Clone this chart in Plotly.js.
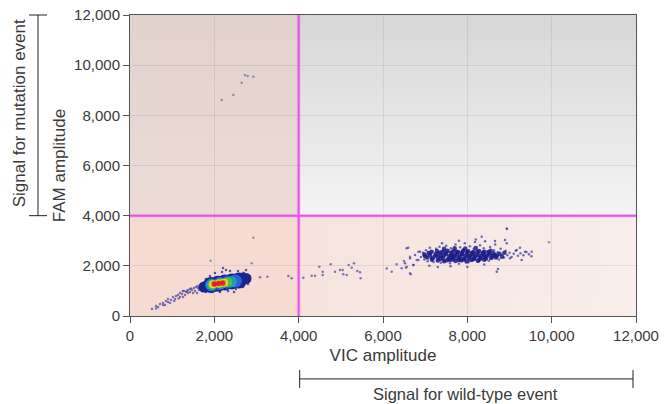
<!DOCTYPE html>
<html><head><meta charset="utf-8">
<script src="https://cdn.plot.ly/plotly-3.0.1.min.js"></script>
<style>html,body{margin:0;padding:0;background:#fff}#chart{width:666px;height:404px}</style>
</head><body><div id="chart"></div>
<script>
// ---------- data ----------
const xTickVals = [0, 2000, 4000, 6000, 8000, 10000, 12000];
const xTickText = ['0', '2,000', '4,000', '6,000', '8,000', '10,000', '12,000'];
const yTickVals = [0, 2000, 4000, 6000, 8000, 10000, 12000];
const yTickText = ['0', '2,000', '4,000', '6,000', '8,000', '10,000', '12,000'];
const vicThreshold = 4000;
const famThreshold = 4000;

// negative-droplet cluster, drawn as density layers (outer -> core)
const negFringeX = [1755, 2751];
const negFringeY = [1156, 1495];
const negNavyX = [1921, 2087, 2253, 2419, 2585];
const negNavyY = [1236, 1284, 1332, 1379, 1415];
const negBlueX = [1933, 2123, 2312, 2502];
const negBlueY = [1236, 1296, 1348, 1395];
const negTealX = [1933, 2170, 2407];
const negTealY = [1244, 1304, 1363];
const negGreenX = [1957, 2134, 2312];
const negGreenY = [1256, 1304, 1348];
const negYellowX = [1969, 2099, 2230];
const negYellowY = [1264, 1296, 1328];
const negOrangeX = [1992, 2099, 2206];
const negOrangeY = [1276, 1296, 1316];
const negRedX = [2004, 2099, 2194];
const negRedY = [1276, 1296, 1312];
const negEdgeX = [1660,1731,1802,1897,2016,2182,2372,2561,2704,2822,2846,2799,2680,2514,2324,2134,1945,1802,1708,2751,2277,2467,2206,2680];
const negEdgeY = [1116,1276,1475,1595,1714,1754,1794,1794,1714,1595,1435,1276,1156,1076,997,957,957,957,997,1834,1834,957,1914,1714];

// low-amplitude trail below the negative cluster
const trailX = [522,617,711,783,783,854,901,949,972,1020,1067,1091,1138,1186,1186,1233,1257,1281,1304,1328,1376,1376,1423,1423,1470,1494,1518,1542,1565,1589,1613,1636,1660,1731,664,830,1152,1050,1250,1700,1600,1750,1450,1350,900,620];
const trailY = [279,399,478,439,518,598,678,518,638,757,678,797,837,917,757,877,757,997,837,957,1037,917,1076,957,1037,917,1116,997,1156,917,1116,1037,1196,1076,359,439,700,600,1000,1150,1200,1180,1100,1000,560,300];

// rain between the clusters
const bridgeX = [2846,3083,3257,3755,3834,4111,4309,4388,4490,4570,4570,4760,4862,4981,5059,5044,5139,5187,5258,5312,5391,5455,5471,6088,6206,6325,6443,6498,6562,6546,6641,6601,6657,6720,6799,6838,6641];
const bridgeY = [1567,1543,1567,1595,1503,1527,1607,1607,1966,1766,1635,2061,1766,1834,1662,1834,1635,2033,1926,2100,1794,1742,1503,1890,1766,2061,1902,2193,1966,1926,2364,2723,1662,2033,2233,2564,1702];

// isolated droplets
const isoX = [2925, 2886, 1913, 9937, 8934, 2174, 2450, 2648, 2727, 2790, 2925];
const isoY = [3122, 2100, 2205, 2937, 3496, 8611, 8811, 9301, 9608, 9568, 9541];

// wild-type positive cluster: dense core
const wtCoreX = [7300,7450,7600,7720,7850,7980,8100,8250,8400,
 7050,7180,7310,7420,7560,7680,7800,7930,8050,8170,8300,8420,8560,8680,
 6980,7120,7250,7370,7500,7630,7760,7880,8010,8130,8260,8390,8520,8650,
 7150,7280,7400,7530,7650,7780,7900,8020,8150,8280,8400,8550,
 7450,7700,7950,8200,
 7000,7080,7160,7240,7330,7360,7440,7480,7520,7580,7620,7660,7710,7740,7790,7830,7870,7910,7950,7990,8040,8080,8110,8160,8200,8240,8290,8330,8370,8440,8470,8500,8590,8620,8700,8760,8820,8880];
const wtCoreY = [2210,2180,2230,2190,2220,2170,2230,2200,2240,
 2330,2300,2350,2310,2290,2340,2310,2290,2350,2320,2300,2350,2310,2330,
 2450,2420,2470,2430,2460,2420,2450,2470,2430,2460,2420,2450,2470,2430,
 2560,2590,2550,2600,2570,2550,2600,2580,2550,2590,2560,2600,
 2680,2700,2690,2710,
 2380,2510,2240,2390,2520,2270,2400,2540,2220,2380,2500,2280,2420,2560,2230,2380,2520,2260,2400,2530,2260,2400,2520,2270,2410,2540,2250,2390,2520,2280,2400,2540,2380,2500,2400,2480,2360,2520];
// wild-type positive cluster: surrounding droplets
const wtHaloX = [6900,6950,6980,7020,7060,7090,7110,7140,7170,7200,7230,7260,7280,7310,7340,7370,7390,7420,7450,7470,7500,7530,7560,7590,7610,7640,7670,7700,7720,7750,7780,7800,7830,7860,7880,7910,7940,7970,8000,8030,8060,8090,8120,8150,8180,8210,8240,8270,8300,8330,8360,8390,8420,8450,8480,8510,8540,8570,8600,8630,8660,8690,8720,8750,8790,8830,8870,8910,8950,9000,9050,9100,9150,9200,9260,9330,9400,9460,9520,
 6562,6641,6522,6720,6759,6878,6838,8941,9249,9368,9526,9289,9170,9012,8697,8727,8341,8656,8894,8934,7300,7600,8000,8400,7100,8200,7800,7400];
const wtHaloY = [2350,2520,2250,2620,2180,2470,2720,2300,2560,2150,2410,2680,2240,2500,2760,2120,2350,2620,2210,2470,2800,2300,2560,2100,2700,2380,2200,2620,2850,2300,2520,2080,2740,2420,2180,2650,2900,2330,2560,2140,2780,2460,2240,2680,2950,2380,2600,2170,2820,2480,2280,2700,2980,2400,2580,2200,2750,2450,2300,2620,2850,2380,2540,2250,2680,2450,2330,2600,2420,2520,2350,2480,2600,2400,2500,2420,2550,2460,2380,
 2699,2300,2100,2033,2432,2564,2233,3468,2723,2564,2564,2233,2631,2300,1766,1874,3162,2990,3030,2898,1950,1980,1950,2050,2000,3050,3000,2900];

// ---------- background quadrants (gradient image) ----------
function quadrantImage() {
  const c = document.createElement('canvas');
  c.width = 300; c.height = 300;
  const g = c.getContext('2d');
  let gr = g.createLinearGradient(0, 0, 0, 200);
  gr.addColorStop(0, '#e2d2ce'); gr.addColorStop(1, '#ecdbd6');
  g.fillStyle = gr; g.fillRect(0, 0, 100, 200);
  gr = g.createLinearGradient(0, 0, 0, 200);
  gr.addColorStop(0, '#d7d7d7'); gr.addColorStop(1, '#f4f4f4');
  g.fillStyle = gr; g.fillRect(100, 0, 200, 200);
  g.fillStyle = '#f6dbd2'; g.fillRect(0, 200, 100, 100);
  gr = g.createLinearGradient(100, 0, 300, 0);
  gr.addColorStop(0, '#f6e3de'); gr.addColorStop(1, '#f9eeeb');
  g.fillStyle = gr; g.fillRect(100, 200, 200, 100);
  return c.toDataURL('image/png');
}

function layer(x, y, color, size, opacity) {
  return {x: x, y: y, type: 'scatter', mode: 'markers', hoverinfo: 'skip',
    marker: {color: color, size: size, opacity: opacity === undefined ? 1 : opacity, line: {width: 0}}};
}

const traces = [
  layer(trailX, trailY, '#3a3aa2', 2.5, 0.65),
  layer(bridgeX, bridgeY, '#3a3aa2', 2.5, 0.65),
  layer(isoX, isoY, '#5a5a9e', 2.5, 0.6),
  layer(wtHaloX, wtHaloY, '#3030a0', 2.5, 0.7),
  layer(wtCoreX, wtCoreY, '#1a1a86', 4.5, 0.85),
  layer(negEdgeX, negEdgeY, '#1e2a96', 2.5, 0.75),
  layer(negFringeX, negFringeY, '#1a2592', 11),
  layer(negNavyX, negNavyY, '#1a2592', 16),
  layer(negBlueX, negBlueY, '#2b5fda', 13),
  layer(negTealX, negTealY, '#1e9fb0', 11),
  layer(negGreenX, negGreenY, '#4fc236', 9.5),
  layer(negYellowX, negYellowY, '#e3e02a', 8),
  layer(negOrangeX, negOrangeY, '#ef8c1e', 6.5),
  layer(negRedX, negRedY, '#e0221f', 5)
];

const txt = '#3a3a3a';
const axisBase = {
  range: [0, 12000], showgrid: true, gridcolor: 'rgba(0,0,0,0.07)', gridwidth: 1,
  zeroline: false, showline: true, linecolor: '#555', linewidth: 1, mirror: true,
  ticks: 'outside', ticklen: 6, tickcolor: '#555', tickwidth: 1,
  tickfont: {size: 15, color: txt}, fixedrange: true
};

const bracket = {type: 'line', xref: 'paper', yref: 'paper', line: {color: '#222', width: 1}};
const magenta = {color: '#ea50ea', width: 2};
const glow = {color: 'rgba(235,90,235,0.2)', width: 4};

const layout = {
  width: 666, height: 404,
  margin: {l: 130, r: 30, t: 15, b: 88},
  paper_bgcolor: '#ffffff', plot_bgcolor: '#ffffff',
  showlegend: false,
  font: {family: '"Liberation Sans", Arial, sans-serif', size: 15, color: txt},
  xaxis: Object.assign({}, axisBase, {tickvals: xTickVals, ticktext: xTickText,
    title: {text: 'VIC amplitude', font: {size: 17, color: txt}, standoff: 6}}),
  yaxis: Object.assign({}, axisBase, {tickvals: yTickVals, ticktext: yTickText,
    title: {text: 'FAM amplitude', font: {size: 17, color: txt}, standoff: 4}}),
  images: [{source: quadrantImage(), xref: 'x', yref: 'y', x: 0, y: 12000,
    sizex: 12000, sizey: 12000, sizing: 'stretch', xanchor: 'left', yanchor: 'top', layer: 'below'}],
  shapes: [
    {type: 'line', xref: 'x', yref: 'y', x0: vicThreshold, x1: vicThreshold, y0: 0, y1: 12000, line: glow, layer: 'above'},
    {type: 'line', xref: 'x', yref: 'y', x0: 0, x1: 12000, y0: famThreshold, y1: famThreshold, line: glow, layer: 'above'},
    {type: 'line', xref: 'x', yref: 'y', x0: vicThreshold, x1: vicThreshold, y0: 0, y1: 12000, line: magenta, layer: 'above'},
    {type: 'line', xref: 'x', yref: 'y', x0: 0, x1: 12000, y0: famThreshold, y1: famThreshold, line: magenta, layer: 'above'},
    Object.assign({}, bracket, {x0: -0.1818, x1: -0.1818, y0: 1 / 3, y1: 1}),
    Object.assign({}, bracket, {x0: -0.1996, x1: -0.164, y0: 1, y1: 1}),
    Object.assign({}, bracket, {x0: -0.1996, x1: -0.164, y0: 1 / 3, y1: 1 / 3}),
    Object.assign({}, bracket, {x0: 0.3353, x1: 0.9941, y0: -0.209, y1: -0.209}),
    Object.assign({}, bracket, {x0: 0.3353, x1: 0.3353, y0: -0.179, y1: -0.239}),
    Object.assign({}, bracket, {x0: 0.9941, x1: 0.9941, y0: -0.179, y1: -0.239})
  ],
  annotations: [
    {xref: 'paper', yref: 'paper', x: -0.2184, y: 0.675, text: 'Signal for mutation event',
      textangle: -90, showarrow: false, font: {size: 17, color: txt}, xanchor: 'center', yanchor: 'middle'},
    {xref: 'paper', yref: 'paper', x: 0.664, y: -0.258, text: 'Signal for wild-type event',
      showarrow: false, font: {size: 16.5, color: txt}, xanchor: 'center', yanchor: 'middle'}
  ]
};

Plotly.newPlot('chart', traces, layout, {displayModeBar: false, staticPlot: true});
</script></body></html>
